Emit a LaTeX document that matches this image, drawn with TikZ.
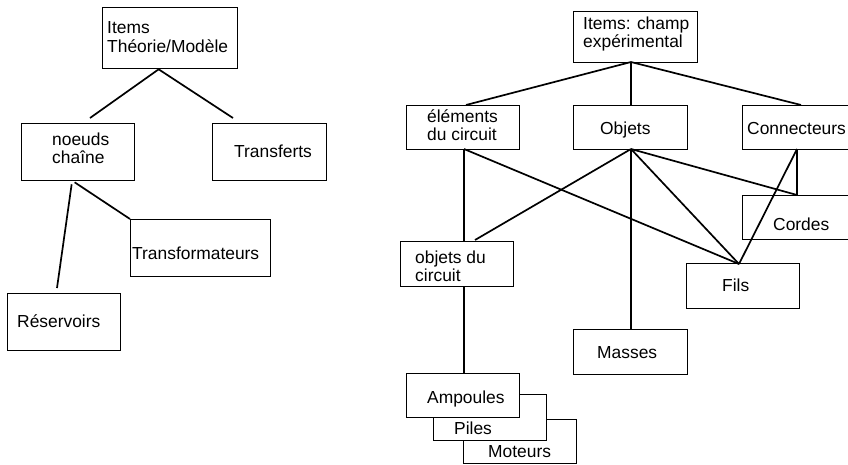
\documentclass[tikz,border=0pt]{standalone}
\usepackage{fontspec}
\setmainfont{Liberation Sans}
\begin{document}
\begin{tikzpicture}[x=1pt,y=-1pt,
  box/.style={draw,line width=1.3pt,inner sep=0pt,anchor=north west,fill=white},
  lbl/.style={inner sep=0pt,anchor=base west,font=\fontsize{17.4}{18.5}\selectfont},
  link/.style={line width=1.7pt}]
\useasboundingbox (0,0) rectangle (848,464);
\clip (0,0) rectangle (848,464);
% ---------- left tree ----------
\node[box,minimum width=135pt,minimum height=61pt] (itemsL) at (102,7) {};
\node[box,minimum width=113pt,minimum height=57pt] (noeuds) at (21,123) {};
\node[box,minimum width=114pt,minimum height=57pt] (transf) at (212,123) {};
\node[box,minimum width=140pt,minimum height=57pt] (transfo) at (130,219) {};
\node[box,minimum width=113pt,minimum height=57pt] (reserv) at (7,293) {};
\node[lbl] (tItemsL1) at (107,33.5) {Items};
\node[lbl] (tItemsL2) at (107,52) {Théorie/Modèle};
\node[lbl] (tNoeuds1) at (52,145) {noeuds};
\node[lbl] (tNoeuds2) at (52,163) {chaîne};
\node[lbl] (tTransf) at (234,157) {Transferts};
\node[lbl] (tTransfo) at (132,259) {Transformateurs};
\node[lbl] (tReserv) at (17,327) {Réservoirs};
\coordinate (noeudsTop) at (90,118);
\coordinate (transfTop) at (233,118);
\coordinate (reservTop) at (57,288);
\draw[link] ([xshift=-11.5pt]itemsL.south) -- (noeudsTop);
\draw[link] ([xshift=-11.5pt]itemsL.south) -- (transfTop);
\draw[link] ([xshift=-6.5pt,yshift=-3pt]noeuds.south) -- (reservTop);
\draw[link] ([xshift=-3.5pt,yshift=-1pt]noeuds.south) -- (transfo.north west);
% ---------- right tree ----------
\node[box,minimum width=124pt,minimum height=51pt] (itemsR) at (573,11) {};
\node[box,minimum width=113pt,minimum height=44pt] (elem) at (406,105) {};
\node[box,minimum width=114pt,minimum height=44pt] (objets) at (573,105) {};
\node[box,minimum width=130pt,minimum height=44pt] (connect) at (742,105) {};
\node[box,minimum width=130pt,minimum height=44pt] (cordes) at (742,195) {};
\node[box,minimum width=113pt,minimum height=45pt] (objcirc) at (400,241) {};
\node[box,minimum width=113pt,minimum height=45pt] (fils) at (686,263) {};
\node[box,minimum width=114pt,minimum height=45pt] (masses) at (573,329) {};
\node[box,minimum width=113pt,minimum height=44pt] (moteurs) at (463,419) {};
\node[box,minimum width=113pt,minimum height=46pt] (piles) at (433,394) {};
\node[box,minimum width=113pt,minimum height=44pt] (ampoules) at (406,373) {};
\node[lbl] (tItemsR1) at (583,29) {Items: champ};
\node[lbl] (tItemsR2) at (583,47) {expérimental};
\node[lbl] (tElem1) at (427,122) {éléments};
\node[lbl] (tElem2) at (427,140) {du circuit};
\node[lbl] (tObjets) at (600,134) {Objets};
\node[lbl] (tConnect) at (747,134) {Connecteurs};
\node[lbl] (tCordes) at (773,230) {Cordes};
\node[lbl] (tObjcirc1) at (415,263) {objets du};
\node[lbl] (tObjcirc2) at (415,281) {circuit};
\node[lbl] (tFils) at (722,291) {Fils};
\node[lbl] (tMasses) at (597,358) {Masses};
\node[lbl] (tAmpoules) at (427,403) {Ampoules};
\node[lbl] (tPiles) at (454,434) {Piles};
\node[lbl] (tMoteurs) at (488,457) {Moteurs};
\coordinate (itemsRbot) at (631,62);
\coordinate (elemTop) at (466,105);
\coordinate (connTop) at (801,105);
\coordinate (elemBot) at (464,149);
\coordinate (objBot) at (631,149);
\coordinate (connBot) at (797,149);
\coordinate (cordesTop) at (797,195);
\coordinate (filsTop) at (739,264);
\coordinate (objcircTop) at (475,240);
\coordinate (objcircTopV) at (464,241);
\coordinate (objcircBot) at (464,286);
\coordinate (ampTop) at (464,373);
\coordinate (massesTop) at (631,329);
\draw[link] (itemsRbot) -- (elemTop);
\draw[link] (itemsRbot) -- (objBot |- objets.north);
\draw[link] (itemsRbot) -- (connTop);
\draw[link] (elemBot) -- (objcircTopV);
\draw[link] (elemBot) -- (filsTop);
\draw[link] (objBot) -- (objcircTop);
\draw[link] (objBot) -- (massesTop);
\draw[link] (objBot) -- (filsTop);
\draw[link] (objBot) -- (cordesTop);
\draw[link] (connBot) -- (cordesTop);
\draw[link] (connBot) -- (filsTop);
\draw[link] (objcircBot) -- (ampTop);
\end{tikzpicture}
\end{document}
